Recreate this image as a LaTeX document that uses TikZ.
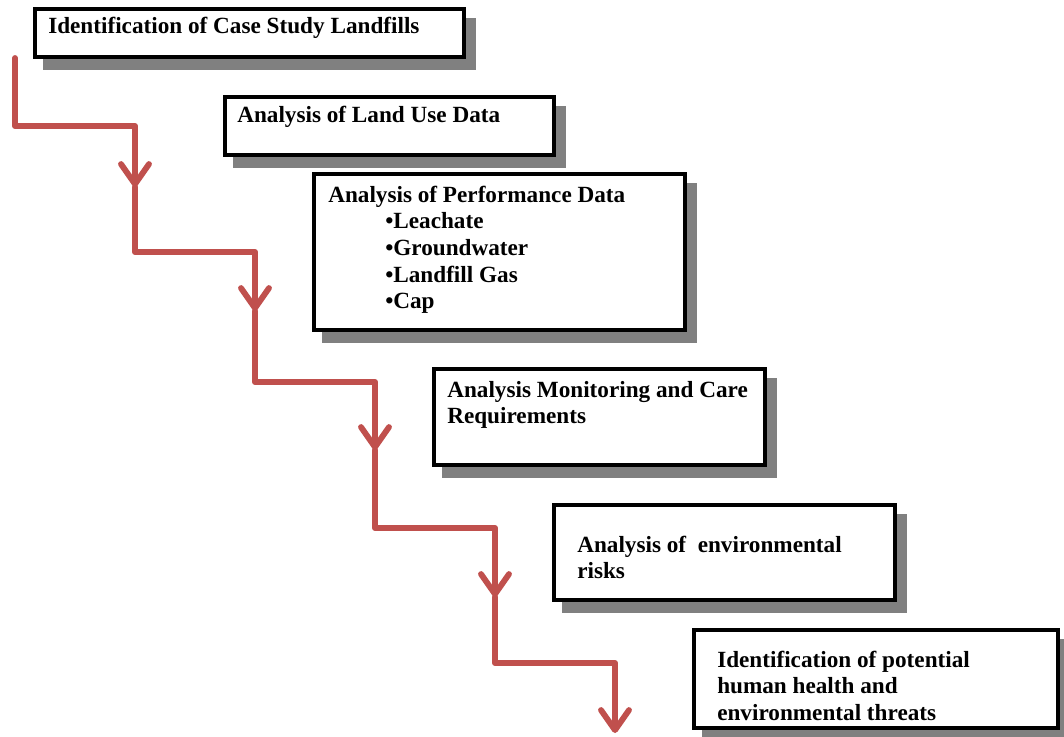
\documentclass[tikz,border=0pt]{standalone}
\usepackage{fontspec}
\setmainfont{Liberation Serif}
\usetikzlibrary{arrows.meta,shadows}
\definecolor{flowred}{HTML}{C0504D}
\definecolor{shgray}{HTML}{808080}
\begin{document}
\begin{tikzpicture}[x=0.75pt,y=-0.75pt,
  stepbox/.style={draw=black, line width=3pt, fill=white, rectangle, inner sep=0pt,
    general shadow={shadow xshift=7.5pt, shadow yshift=-8.25pt, fill=shgray, draw=shgray, line width=3pt}},
  label/.style={anchor=base west, inner sep=0pt, font=\fontsize{17.4}{20}\selectfont\bfseries},
  flow/.style={draw=flowred, line width=4.4pt, line cap=round, line join=round,
    -{Straight Barb[length=15pt, width=21pt, round]}}]
\useasboundingbox (0,0) rectangle (1064,736);
\clip (0,0) rectangle (1064,736);

% boxes: outer edges, the border path sits 2px inside
\newcommand{\flowbox}[5]{%
  \node[stepbox, minimum width={(#4-#2-4)*0.75pt}, minimum height={(#5-#3-4)*0.75pt}]
    (#1) at ({(#2+#4)/2},{(#3+#5)/2}) {};}
\flowbox{b1}{33}{7}{466}{59}
\flowbox{b2}{223}{95}{556}{157}
\flowbox{b3}{312}{172}{687}{332}
\flowbox{b4}{432}{367}{767}{467}
\flowbox{b5}{552}{503}{897}{602}
\flowbox{b6}{692}{628}{1060}{730}

% box texts
\node[label] (t1) at (48,33) {Identification of Case Study Landfills};
\node[label] (t2) at (237,122) {Analysis of Land Use Data};
\node[label] (t3) at (328,202) {\begin{tabular}[t]{@{}l@{}}
  Analysis of Performance Data\\
  \hspace{42.75pt}•Leachate\\
  \hspace{42.75pt}•Groundwater\\
  \hspace{42.75pt}•Landfill Gas\\
  \hspace{42.75pt}•Cap\end{tabular}};
\node[label] (t4) at (447,397) {\begin{tabular}[t]{@{}l@{}}
  Analysis Monitoring and Care\\ Requirements\end{tabular}};
\node[label] (t5) at (577,552) {\begin{tabular}[t]{@{}l@{}}
  Analysis of~ environmental\\ risks\end{tabular}};
\node[label] (t6) at (717,667) {\begin{tabular}[t]{@{}l@{}}
  Identification of potential\\ human health and\\ environmental threats\end{tabular}};

% staircase of connectors
\coordinate (c0) at (15,58);
\coordinate (c1) at (135,187);
\coordinate (c2) at (255,311);
\coordinate (c3) at (375,450);
\coordinate (c4) at (495,597);
\coordinate (c5) at (615,733);
\draw[flow] (c0) -- ++(0,68) -| (c1);
\draw[flow] (c1) -- ++(0,65) -| (c2);
\draw[flow] (c2) -- ++(0,71) -| (c3);
\draw[flow] (c3) -- ++(0,78) -| (c4);
\draw[flow] (c4) -- ++(0,66) -| (c5);
\end{tikzpicture}
\end{document}
